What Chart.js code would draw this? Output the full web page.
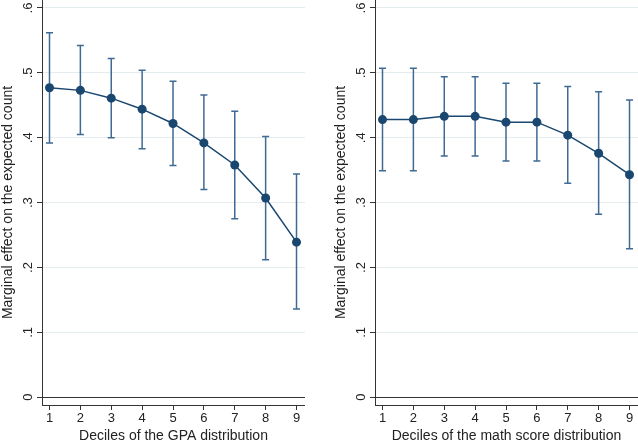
<!DOCTYPE html>
<html>
<head>
<meta charset="utf-8">
<script src="https://cdn.jsdelivr.net/npm/chart.js@4.4.1/dist/chart.umd.min.js"></script>
<style>
  body { margin: 0; background: #fff; }
  .panel { position: absolute; top: 0; width: 305px; height: 446px; }
</style>
</head>
<body>
<div class="panel" style="left:0"><canvas id="gpa"></canvas></div>
<div class="panel" style="left:333px"><canvas id="math"></canvas></div>
<script>
// deciles on the x axis
const deciles = [1, 2, 3, 4, 5, 6, 7, 8, 9];

// GPA panel
const gpaEffect = [0.477, 0.473, 0.461, 0.444, 0.422, 0.392, 0.358, 0.307, 0.239];
const gpaUpper  = [0.562, 0.542, 0.522, 0.504, 0.487, 0.466, 0.441, 0.402, 0.344];
const gpaLower  = [0.392, 0.405, 0.400, 0.383, 0.357, 0.320, 0.275, 0.212, 0.136];

// math score panel
const mathEffect = [0.428, 0.428, 0.433, 0.433, 0.424, 0.424, 0.404, 0.376, 0.343];
const mathUpper  = [0.507, 0.507, 0.494, 0.494, 0.484, 0.484, 0.479, 0.471, 0.458];
const mathLower  = [0.349, 0.349, 0.372, 0.372, 0.364, 0.364, 0.330, 0.282, 0.229];

// y ticks
const yTicks = [0, 0.1, 0.2, 0.3, 0.4, 0.5, 0.6];
const yTickLabels = ["0", ".1", ".2", ".3", ".4", ".5", ".6"];

const yTitle = "Marginal effect on the expected count";
const lineColor = "#1a476f";
const barColor = "#3f6a93";
const axisColor = "#333";
const font = "'Liberation Sans', Arial, sans-serif";

// draws the confidence interval caps behind the markers
const errorBars = {
  id: "errorBars",
  beforeDatasetsDraw(chart, args, opts) {
    const ctx = chart.ctx;
    const xs = chart.scales.x, ys = chart.scales.y;
    ctx.save();
    ctx.strokeStyle = barColor;
    ctx.lineWidth = 1.5;
    opts.lower.forEach((lo, i) => {
      const x = xs.getPixelForValue(deciles[i]);
      const y1 = ys.getPixelForValue(lo);
      const y2 = ys.getPixelForValue(opts.upper[i]);
      ctx.beginPath();
      ctx.moveTo(x, y1); ctx.lineTo(x, y2);
      ctx.moveTo(x - 3.5, y1); ctx.lineTo(x + 3.5, y1);
      ctx.moveTo(x - 3.5, y2); ctx.lineTo(x + 3.5, y2);
      ctx.stroke();
    });
    ctx.restore();
  }
};

// rotated y tick labels, Stata style
const yLabels = {
  id: "yLabels",
  afterDraw(chart) {
    const ctx = chart.ctx;
    const ys = chart.scales.y;
    ctx.save();
    ctx.fillStyle = "#222";
    ctx.font = "13px " + font;
    ctx.textAlign = "center";
    ctx.textBaseline = "middle";
    yTicks.forEach((v, i) => {
      const y = ys.getPixelForValue(v);
      ctx.save();
      ctx.translate(28, y);
      ctx.rotate(-Math.PI / 2);
      ctx.fillText(yTickLabels[i], 0, 0);
      ctx.restore();
    });
    ctx.restore();
  }
};

function makeChart(id, effect, upper, lower, xTitle) {
  return new Chart(document.getElementById(id), {
    type: "line",
    data: {
      datasets: [{
        data: deciles.map((d, i) => ({ x: d, y: effect[i] })),
        borderColor: lineColor,
        borderWidth: 1.5,
        backgroundColor: lineColor,
        pointRadius: 4.5,
        pointBackgroundColor: lineColor,
        pointBorderWidth: 0,
        tension: 0
      }]
    },
    options: {
      responsive: true,
      maintainAspectRatio: false,
      animation: false,
      layout: { padding: 0, autoPadding: false },
      plugins: {
        legend: { display: false },
        tooltip: { enabled: false },
        errorBars: { upper: upper, lower: lower }
      },
      scales: {
        x: {
          type: "linear",
          min: 0.757,
          max: 9.275,
          afterBuildTicks: s => { s.ticks = deciles.map(v => ({ value: v })); },
          afterFit: s => { s.height = 41; s.paddingLeft = 0; s.paddingRight = 0; },
          grid: { drawOnChartArea: false, tickLength: 5, tickColor: axisColor },
          border: { color: axisColor, width: 1 },
          ticks: { color: "#222", font: { family: font, size: 13 }, padding: 1, maxRotation: 0 },
          title: { display: true, text: xTitle, color: "#222", font: { family: font, size: 14 }, padding: { top: 0, bottom: 1 } }
        },
        y: {
          min: -0.012,
          max: 0.6123,
          afterBuildTicks: s => { s.ticks = yTicks.map(v => ({ value: v })); },
          afterFit: s => { s.width = 42; s.paddingTop = 0; s.paddingBottom = 0; },
          grid: {
            color: c => (c.tick && c.tick.value === 0 ? axisColor : "#e4ecef"),
            tickLength: 5,
            tickColor: axisColor
          },
          border: { color: axisColor, width: 1 },
          ticks: { display: false },
          title: { display: true, text: yTitle, color: "#222", font: { family: font, size: 14 }, padding: 0 }
        }
      }
    },
    plugins: [errorBars, yLabels]
  });
}

makeChart("gpa", gpaEffect, gpaUpper, gpaLower, "Deciles of the GPA distribution");
makeChart("math", mathEffect, mathUpper, mathLower, "Deciles of the math score distribution");
</script>
</body>
</html>
